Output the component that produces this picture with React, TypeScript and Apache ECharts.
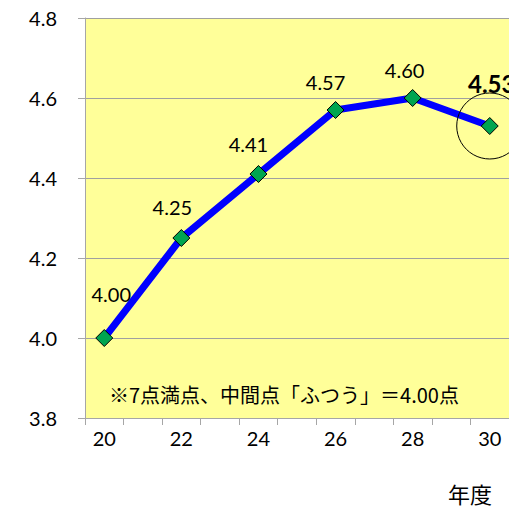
import React, { useEffect, useRef } from "react";
import * as echarts from "echarts";

const categories = ["20", "21", "22", "23", "24", "25", "26", "27", "28", "29", "30"];
const scores: (number | null)[] = [4.0, null, 4.25, null, 4.41, null, 4.57, null, 4.6, null, 4.53];
const yTicks = { min: 3.8, max: 4.8, interval: 0.2 };
const noteText = "※7点満点、中間点「ふつう」＝4.00点";
const xAxisTitle = "年度";
const highlightIndex = 10;

// label offsets (style only)
const labelOffsets: Record<number, [number, number]> = {
  0: [7, -44],
  2: [-9, -31],
  4: [-10, -30],
  6: [-10, -28],
  8: [-8, -28],
  10: [2, -43],
};

const NUM_FONT = "Lato, 'Noto Sans', sans-serif";
const CJK_FONT = "'Noto Sans CJK JP', sans-serif";

export default function App() {
  const ref = useRef<HTMLDivElement>(null);
  useEffect(() => {
    if (!ref.current) return;
    const chart = echarts.init(ref.current, null, { renderer: "svg" });
    const lineData = scores.map((v, i) => {
      if (v === null) return null;
      const off = labelOffsets[i] || [0, -30];
      const bold = i === highlightIndex;
      return {
        value: v,
        label: {
          show: true,
          position: "inside",
          offset: off,
          formatter: (p: any) => Number(p.value).toFixed(2),
          fontFamily: NUM_FONT,
          fontSize: bold ? 24 : 20,
          fontWeight: bold ? "bold" : "normal",
          color: "#000",
        },
      };
    });
    chart.setOption({
      animation: false,
      backgroundColor: "#ffffff",
      grid: {
        left: 85,
        top: 18,
        width: 429,
        height: 400,
        show: true,
        backgroundColor: "#FFFF99",
        borderWidth: 0,
      },
      xAxis: {
        type: "category",
        data: categories,
        boundaryGap: true,
        axisLine: { show: true, lineStyle: { color: "#A6A6A6", width: 1 } },
        axisTick: { show: true, interval: 0, length: 7, lineStyle: { color: "#A6A6A6" } },
        axisLabel: {
          interval: 1,
          margin: 10,
          fontFamily: NUM_FONT,
          fontSize: 20,
          color: "#000",
        },
        splitLine: { show: false },
      },
      yAxis: {
        type: "value",
        min: yTicks.min,
        max: yTicks.max,
        interval: yTicks.interval,
        axisLine: { show: true, lineStyle: { color: "#A6A6A6", width: 1 } },
        axisTick: { show: true, length: 7, lineStyle: { color: "#A6A6A6" } },
        axisLabel: {
          margin: 28,
          fontFamily: NUM_FONT,
          fontSize: 20,
          color: "#000",
          formatter: (v: number) => v.toFixed(1),
        },
        splitLine: { show: true, lineStyle: { color: "#A0A0A0", width: 1 } },
      },
      series: [
        {
          type: "line",
          data: lineData,
          connectNulls: true,
          symbol: "diamond",
          symbolSize: 17,
          lineStyle: { color: "#0000FF", width: 7 },
          itemStyle: { color: "#00A550", borderColor: "#000", borderWidth: 1 },
          z: 3,
          markPoint: {
            symbol: "circle",
            symbolSize: 66,
            silent: true,
            itemStyle: { color: "rgba(0,0,0,0)", borderColor: "#000", borderWidth: 1 },
            label: { show: false },
            data: [{ coord: [categories[highlightIndex], scores[highlightIndex]] }],
          },
        },
      ],
      graphic: [
        {
          type: "text",
          left: 109,
          top: 384,
          style: { text: noteText, font: `20px ${CJK_FONT}`, fill: "#000" },
        },
        {
          type: "text",
          left: 448,
          top: 482,
          style: { text: xAxisTitle, font: `22px ${CJK_FONT}`, fill: "#000" },
        },
      ],
    });
    return () => chart.dispose();
  }, []);
  return (
    <div
      ref={ref}
      style={{ position: "fixed", left: 0, top: 0, width: 509, height: 511 }}
    />
  );
}
